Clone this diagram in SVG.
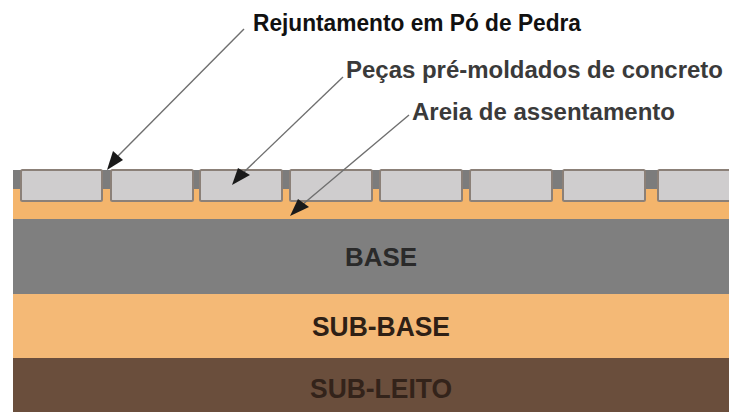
<svg xmlns="http://www.w3.org/2000/svg" width="729" height="412" viewBox="0 0 729 412">
<style>
.t{fill:#cfcdce;stroke:#8b8078;stroke-width:2}
.l{font-family:"Liberation Sans",Arial,sans-serif;font-weight:700}
.c{stroke:#6f6f6f;stroke-width:1.4;fill:none}
.a{fill:#1a1a1a}
</style>
<rect width="729" height="412" fill="#fff"/>
<g id="layers">
<rect id="gap" x="13" y="170" width="716" height="20" fill="#7c7c7c"/>
<rect id="sand" x="13" y="189" width="716" height="31" fill="#f4b56c"/>
<g id="base"><rect x="13" y="219" width="716" height="75" fill="#7f7f7f"/><text class="l" x="345" y="266" font-size="26" fill="#2a2a2a" textLength="72" lengthAdjust="spacingAndGlyphs">BASE</text></g>
<g id="sub-base"><rect x="13" y="294" width="716" height="64" fill="#f4b976"/><text class="l" x="312" y="336" font-size="27" fill="#2e2015" textLength="138" lengthAdjust="spacingAndGlyphs">SUB-BASE</text></g>
<g id="sub-leito"><rect x="13" y="358" width="716" height="54" fill="#6a4e3c"/><text class="l" x="310" y="398" font-size="27" fill="#33231a" textLength="142" lengthAdjust="spacingAndGlyphs">SUB-LEITO</text></g>
</g>
<g id="pavers">
<rect class="t" x="21" y="170" width="81" height="31" rx="1.5"/>
<rect class="t" x="111" y="170" width="82" height="31" rx="1.5"/>
<rect class="t" x="200" y="170" width="82" height="31" rx="1.5"/>
<rect class="t" x="290" y="170" width="82" height="31" rx="1.5"/>
<rect class="t" x="380" y="170" width="82" height="31" rx="1.5"/>
<rect class="t" x="470" y="170" width="82" height="31" rx="1.5"/>
<rect class="t" x="563" y="170" width="82" height="31" rx="1.5"/>
<rect class="t" x="658" y="170" width="80" height="31" rx="1.5"/>
</g>
<g id="connectors">
<line class="c" x1="244" y1="29" x2="118" y2="156"/>
<polygon class="a" points="107,170 113,151 123,160"/>
<line class="c" x1="343" y1="77" x2="244" y2="172"/>
<polygon class="a" points="232,185 238,168 250,175"/>
<line class="c" x1="409" y1="115" x2="302" y2="205"/>
<polygon class="a" points="290,216 298,199 309,207"/>
</g>
<g id="labels">
<text class="l" x="253" y="31" font-size="23" fill="#111" textLength="328" lengthAdjust="spacingAndGlyphs">Rejuntamento em Pó de Pedra</text>
<text class="l" x="346" y="78" font-size="23" fill="#3a3a3a" textLength="377" lengthAdjust="spacingAndGlyphs">Peças pré-moldados de concreto</text>
<text class="l" x="412" y="120" font-size="23" fill="#3a3a3a" textLength="263" lengthAdjust="spacingAndGlyphs">Areia de assentamento</text>
</g>
</svg>
